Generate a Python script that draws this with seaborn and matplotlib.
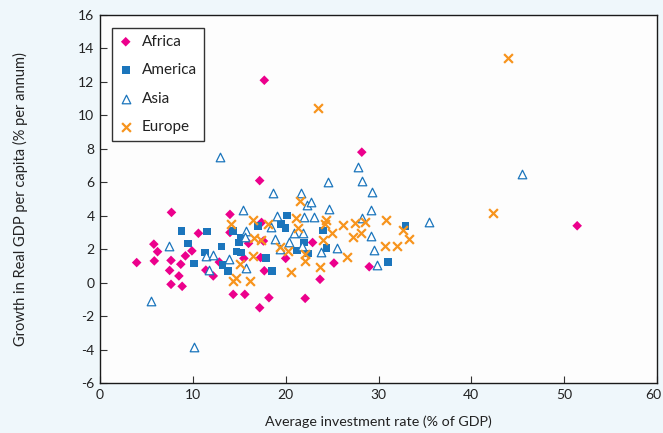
import matplotlib
matplotlib.use("Agg")
import matplotlib.pyplot as plt
import matplotlib.transforms as mtransforms
import seaborn as sns
import pandas as pd

# Average investment rate (% of GDP) and growth in real GDP per capita (% p.a.)
africa_x = [3.95, 5.85, 5.8, 6.2, 7.7, 7.65, 7.5, 7.65, 8.7, 8.5, 8.85, 9.2, 9.9,
            10.6, 11.4, 12.2, 12.85, 14.0, 14.0, 14.35, 15.6, 15.5, 16.0, 17.4,
            17.6, 17.3, 17.7, 17.2, 17.7, 18.2, 17.2, 20.0, 22.1, 22.9, 23.7,
            25.2, 28.2, 29.0, 51.4]
africa_y = [1.2, 1.3, 2.3, 1.85, 4.2, 1.33, 0.73, -0.1, 1.1, 0.4, -0.22, 1.6, 1.9,
            2.95, 0.75, 0.4, 1.23, 4.08, 3.0, -0.7, -0.7, 1.45, 2.35, 3.6,
            2.49, 1.5, 0.71, 6.1, 12.1, -0.9, -1.5, 1.45, -0.94, 2.4, 0.2,
            1.17, 7.8, 0.95, 3.4]

america_x = [8.8, 11.5, 9.45, 11.3, 10.1, 13.1, 14.7, 15.2, 13.2, 13.8, 14.3,
             15.2, 15.0, 17.05, 17.9, 18.5, 19.5, 20.0, 20.15, 22.0, 21.2,
             24.0, 24.4, 22.4, 31.0, 32.9]
america_y = [3.1, 3.05, 2.35, 1.8, 1.15, 2.15, 1.87, 1.79, 1.05, 0.7, 3.1,
             2.68, 2.41, 3.38, 1.47, 0.71, 3.5, 3.28, 4.02, 2.41, 1.92,
             3.12, 2.07, 1.75, 1.25, 3.4]

asia_x = [5.45, 7.45, 10.1, 11.4, 11.7, 12.2, 12.9, 13.9, 15.4, 15.7, 15.7, 15.6,
          18.6, 18.4, 18.9, 19.05, 19.4, 20.4, 20.9, 21.7, 21.8, 21.9, 22.0,
          22.3, 22.7, 23.1, 23.8, 24.6, 24.7, 25.5, 27.75, 28.2, 28.25, 29.2,
          29.2, 29.3, 29.5, 29.8, 35.4, 45.5]
asia_y = [-1.08, 2.2, -3.85, 1.58, 0.73, 1.63, 7.5, 1.43, 4.34, 3.1, 0.87, 2.72,
          5.34, 3.34, 2.62, 4.0, 1.99, 2.45, 2.98, 5.34, 2.19, 2.98, 3.9,
          4.64, 4.85, 3.9, 1.83, 6.03, 4.38, 2.09, 6.93, 3.88, 6.07, 4.34,
          2.79, 5.43, 1.95, 1.05, 3.6, 6.47]

europe_x = [14.1, 16.5, 18.15, 21.1, 21.35, 21.55, 16.55, 17.3, 19.4, 20.2, 22.1,
            16.45, 22.1, 15.1, 20.6, 14.6, 14.35, 16.2, 24.35, 24.25, 28.5,
            27.5, 30.8, 26.2, 32.6, 33.3, 25.0, 27.2, 28.1, 24.0, 30.7, 31.95,
            26.6, 23.65, 23.5, 42.3, 43.9]
europe_y = [3.48, 3.74, 3.49, 3.89, 3.26, 4.9, 2.66, 2.55, 2.12, 1.92, 1.72,
            1.59, 1.32, 1.12, 0.62, 0.26, 0.11, 0.11, 3.72, 3.48, 3.64,
            3.54, 3.74, 3.44, 3.14, 2.62, 2.95, 2.74, 2.95, 2.52, 2.19, 2.19,
            1.55, 0.95, 10.45, 4.14, 13.45]

regions = ["Africa", "America", "Asia", "Europe"]
x_ticks = [0, 10, 20, 30, 40, 50, 60]
y_ticks = [-6, -4, -2, 0, 2, 4, 6, 8, 10, 12, 14, 16]

df = pd.concat([
    pd.DataFrame({"inv": africa_x, "growth": africa_y, "region": "Africa"}),
    pd.DataFrame({"inv": america_x, "growth": america_y, "region": "America"}),
    pd.DataFrame({"inv": asia_x, "growth": asia_y, "region": "Asia"}),
    pd.DataFrame({"inv": europe_x, "growth": europe_y, "region": "Europe"}),
], ignore_index=True)

sns.set_theme(style="white")
plt.rcParams["font.family"] = ["Lato", "DejaVu Sans"]
plt.rcParams["axes.unicode_minus"] = False

magenta = "#EC008C"
blue = "#1B75BC"
orange = "#F7941D"

fig = plt.figure(figsize=(6.63, 4.33), dpi=100, facecolor="#EFF7FB")
ax = fig.add_axes([100 / 663, 1 - 383 / 433, 557 / 663, 368 / 433])
ax.set_facecolor("#FDFDFD")

styles = {
    "Africa": dict(marker="D", s=24, color=magenta, edgecolor="none"),
    "America": dict(marker="s", s=30, color=blue, edgecolor="none"),
    "Asia": dict(marker="^", s=38, facecolor="white", edgecolor=blue, linewidth=0.9),
    "Europe": dict(marker="x", s=40, color=orange, linewidth=1.6),
}

for reg in regions:
    sub = df[df["region"] == reg]
    sns.scatterplot(data=sub, x="inv", y="growth", ax=ax, label=reg, **styles[reg])

ax.set_xlim(0, 60)
ax.set_ylim(-6, 16)
ax.set_xticks(x_ticks)
ax.set_yticks(y_ticks)
ax.tick_params(axis="both", direction="in", length=5, width=0.8, color="#333333",
               labelsize=10, labelcolor="#222222", pad=4, left=True, bottom=True)
for side in ["left", "bottom", "right", "top"]:
    ax.spines[side].set_visible(True)
    ax.spines[side].set_color("#1a1a1a")
    ax.spines[side].set_linewidth(1.0)

# keep the last x tick label inside the figure edge
last = ax.get_xticklabels()[-1]
last.set_transform(last.get_transform() +
                   mtransforms.ScaledTranslation(-4 / 100, 0, fig.dpi_scale_trans))

ax.set_xlabel("Average investment rate (% of GDP)", fontsize=10.3, color="#222222", labelpad=11)
ax.set_ylabel("Growth in Real GDP per capita (% per annum)", fontsize=10.5, color="#222222",
              labelpad=36)

leg = ax.legend(loc="upper left", bbox_to_anchor=(0.0215, 0.965), borderaxespad=0,
                fancybox=False, framealpha=1, facecolor="white", edgecolor="#333333",
                fontsize=11, handlelength=0.9, handletextpad=0.6, labelspacing=0.95,
                borderpad=0.45)
leg.get_frame().set_linewidth(1.0)
for t in leg.get_texts():
    t.set_color("#222222")

fig.savefig("out.png", dpi=100, facecolor=fig.get_facecolor())
